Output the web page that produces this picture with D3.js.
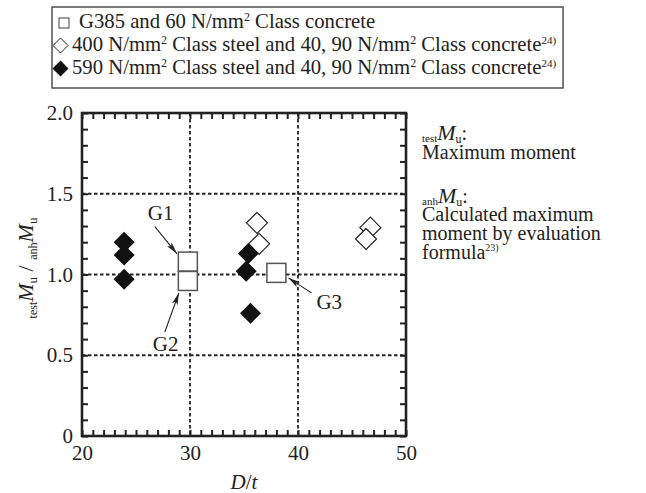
<!DOCTYPE html>
<html>
<head>
<meta charset="utf-8">
<script src="https://cdn.jsdelivr.net/npm/d3@7/dist/d3.min.js"></script>
<style>
    body { margin: 0; background: #fff; }
    text { font-family: "Liberation Serif", "Times New Roman", serif; fill: #222; }
</style>
</head>
<body>
<script>
// values
var g385DT = [29.8, 29.8, 38.0];
var g385Ratio = [1.08, 0.96, 1.01];
var g385Names = ["G1", "G2", "G3"];

var steel400DT = [36.2, 36.4, 46.7, 46.3];
var steel400Ratio = [1.32, 1.19, 1.29, 1.22];

var steel590DT = [23.9, 23.9, 23.9, 35.4, 35.2, 35.6];
var steel590Ratio = [1.20, 1.12, 0.97, 1.13, 1.02, 0.76];

var xTicks = [20, 30, 40, 50];
var xTickLabels = ["20", "30", "40", "50"];
var yTicks = [0, 0.5, 1.0, 1.5, 2.0];
var yTickLabels = ["0", "0.5", "1.0", "1.5", "2.0"];

// set the dimensions and margins of the graph
var margin = {top: 113, right: 240, bottom: 57, left: 82},
    width = 646 - margin.left - margin.right,
    height = 493 - margin.top - margin.bottom;

// set the ranges
var x = d3.scaleLinear().domain([20, 50]).range([0, width]);
var y = d3.scaleLinear().domain([0, 2]).range([height, 0]);

var root = d3.select("body").append("svg")
    .attr("width", 646)
    .attr("height", 493);

root.append("defs").append("marker")
    .attr("id", "arrow")
    .attr("viewBox", "0 0 12 6")
    .attr("refX", 12)
    .attr("refY", 3)
    .attr("markerWidth", 12)
    .attr("markerHeight", 6)
    .attr("markerUnits", "userSpaceOnUse")
    .attr("orient", "auto")
    .append("path")
    .attr("d", "M0,0 L12,3 L0,6 L3,3 z")
    .style("fill", "#222");

var svg = root.append("g")
    .attr("transform", "translate(" + margin.left + "," + margin.top + ")");

// dotted grid lines at the major ticks
svg.selectAll(".vgrid")
    .data([30, 40])
    .enter().append("line")
    .attr("x1", d => x(d)).attr("x2", d => x(d))
    .attr("y1", 0).attr("y2", height)
    .style("stroke", "#222").style("stroke-width", 1.8)
    .style("stroke-dasharray", "3.5,2.5");
svg.selectAll(".hgrid")
    .data([0.5, 1.0, 1.5])
    .enter().append("line")
    .attr("x1", 0).attr("x2", width)
    .attr("y1", d => y(d)).attr("y2", d => y(d))
    .style("stroke", "#222").style("stroke-width", 1.8)
    .style("stroke-dasharray", "3.5,2.5");

// minor ticks pointing inward on all four sides
function tickStyle(g) {
    g.select(".domain").remove();
    g.selectAll("line").style("stroke", "#222").style("stroke-width", 2);
    g.selectAll("text").remove();
}
var xMinor = d3.range(20, 51, 1), yMinor = d3.range(0, 2.001, 0.1);
svg.append("g").attr("transform", "translate(0," + height + ")")
    .call(d3.axisBottom(x).tickValues(xMinor).tickSize(-6)).call(tickStyle);
svg.append("g")
    .call(d3.axisTop(x).tickValues(xMinor).tickSize(-6)).call(tickStyle);
svg.append("g")
    .call(d3.axisLeft(y).tickValues(yMinor).tickSize(-6)).call(tickStyle);
svg.append("g").attr("transform", "translate(" + width + ",0)")
    .call(d3.axisRight(y).tickValues(yMinor).tickSize(-6)).call(tickStyle);

// frame
svg.append("rect")
    .attr("width", width).attr("height", height)
    .style("fill", "none").style("stroke", "#222").style("stroke-width", 2.6);

// tick labels
var xAxis = svg.append("g").attr("transform", "translate(0," + height + ")")
    .call(d3.axisBottom(x).tickValues(xTicks).tickSize(0).tickPadding(9)
        .tickFormat((d, i) => xTickLabels[i]));
xAxis.select(".domain").remove();
xAxis.selectAll("text").style("font-size", "21px").style("font-family", "Liberation Serif").style("fill", "#222");

var yAxis = svg.append("g")
    .call(d3.axisLeft(y).tickValues(yTicks).tickSize(0).tickPadding(9)
        .tickFormat((d, i) => yTickLabels[i]));
yAxis.select(".domain").remove();
yAxis.selectAll("text").style("font-size", "21px").style("font-family", "Liberation Serif").style("fill", "#222");

// markers
function diamond(r) {
    return "M0," + (-r) + "L" + r + ",0L0," + r + "L" + (-r) + ",0Z";
}
var s400 = steel400DT.map((d, i) => ({dt: d, r: steel400Ratio[i]}));
var s590 = steel590DT.map((d, i) => ({dt: d, r: steel590Ratio[i]}));
var g385 = g385DT.map((d, i) => ({dt: d, r: g385Ratio[i], name: g385Names[i]}));

svg.selectAll(".open")
    .data(s400).enter().append("path")
    .attr("transform", d => "translate(" + x(d.dt) + "," + y(d.r) + ")")
    .attr("d", diamond(10.5))
    .style("fill", "#fff").style("stroke", "#222").style("stroke-width", 1.2);

svg.selectAll(".filled")
    .data(s590).enter().append("path")
    .attr("transform", d => "translate(" + x(d.dt) + "," + y(d.r) + ")")
    .attr("d", diamond(10.5))
    .style("fill", "#111");

svg.selectAll(".sq")
    .data(g385).enter().append("rect")
    .attr("x", d => x(d.dt) - 9.5).attr("y", d => y(d.r) - 9.5)
    .attr("width", 19).attr("height", 19)
    .style("fill", "#fff").style("stroke", "#555").style("stroke-width", 1.5);

// G labels with arrows (offsets in pixels from the square centre)
var labelPos = {
    G1: {tx: -40, ty: -42, x1: -33, y1: -35, x2: -11, y2: -8},
    G2: {tx: -35, ty: 70, x1: -23, y1: 51, x2: -9, y2: 12},
    G3: {tx: 40, ty: 36, x1: 35, y1: 20, x2: 12, y2: 5}
};
g385.forEach(function (d) {
    var p = labelPos[d.name], cx = x(d.dt), cy = y(d.r);
    svg.append("line")
        .attr("x1", cx + p.x1).attr("y1", cy + p.y1)
        .attr("x2", cx + p.x2).attr("y2", cy + p.y2)
        .style("stroke", "#222").style("stroke-width", 1.1)
        .attr("marker-end", "url(#arrow)");
    svg.append("text")
        .attr("x", cx + p.tx).attr("y", cy + p.ty)
        .style("font-size", "21px")
        .text(d.name);
});

// axis titles
var xt = root.append("text")
    .attr("x", margin.left + width / 2).attr("y", 489)
    .attr("text-anchor", "middle").style("font-size", "21px");
xt.append("tspan").style("font-style", "italic").text("D");
xt.append("tspan").text("/");
xt.append("tspan").style("font-style", "italic").text("t");

var yt = root.append("text")
    .attr("transform", "translate(33,268) rotate(-90)")
    .attr("text-anchor", "middle").style("font-size", "22px");
yt.append("tspan").attr("dy", 4).style("font-size", "12px").text("test");
yt.append("tspan").attr("dy", -4).style("font-style", "italic").text("M");
yt.append("tspan").attr("dy", 4).style("font-size", "13px").text("u");
yt.append("tspan").attr("dy", -4).text(" / ");
yt.append("tspan").attr("dy", 4).style("font-size", "12px").text("anh");
yt.append("tspan").attr("dy", -4).style("font-style", "italic").text("M");
yt.append("tspan").attr("dy", 4).style("font-size", "13px").text("u");

// legend
var legendBox = root.append("rect")
    .attr("x", 52).attr("y", 7).attr("height", 81)
    .style("fill", "#fff").style("stroke", "#444").style("stroke-width", 1.4);
root.append("rect")
    .attr("x", 59).attr("y", 18).attr("width", 10).attr("height", 10)
    .style("fill", "#fff").style("stroke", "#555").style("stroke-width", 1.1);
root.append("path")
    .attr("transform", "translate(60.5,45.5)").attr("d", diamond(7.5))
    .style("fill", "#fff").style("stroke", "#222").style("stroke-width", 1);
root.append("path")
    .attr("transform", "translate(60.5,68.5)").attr("d", diamond(8))
    .style("fill", "#111");

// parts: plain strings, or [superscript, font size]
var legendRight = 0;
function legendLine(tx, ty, parts) {
    var t = root.append("text").attr("x", tx).attr("y", ty).style("font-size", "20.7px");
    var shift = 0;
    parts.forEach(function (p) {
        if (Array.isArray(p)) {
            t.append("tspan").attr("dy", -7).style("font-size", p[1]).text(p[0]);
            shift = 7;
        } else {
            t.append("tspan").attr("dy", shift).text(p);
            shift = 0;
        }
    });
    legendRight = Math.max(legendRight, tx + t.node().getComputedTextLength());
}
legendLine(79, 28, ["G385 and 60 N/mm", ["2", "12px"], " Class concrete"]);
legendLine(72, 51, ["400 N/mm", ["2", "12px"], " Class steel and 40, 90 N/mm", ["2", "12px"], " Class concrete", ["24)", "11px"]]);
legendLine(72, 74, ["590 N/mm", ["2", "12px"], " Class steel and 40, 90 N/mm", ["2", "12px"], " Class concrete", ["24)", "11px"]]);
legendBox.attr("width", legendRight + 7 - 52);

// notes on the right
function symLine(ty, pre) {
    var t = root.append("text").attr("x", 422).attr("y", ty).style("font-size", "20px");
    t.append("tspan").attr("dy", 2).style("font-size", "11px").text(pre);
    t.append("tspan").attr("dy", -2).style("font-style", "italic").style("font-size", "22px").text("M");
    t.append("tspan").attr("dy", 3).style("font-size", "12px").text("u");
    t.append("tspan").attr("dy", -3).text(":");
}
function noteLine(ty, txt, sup) {
    var t = root.append("text").attr("x", 422).attr("y", ty).style("font-size", "20px");
    t.append("tspan").text(txt);
    if (sup) t.append("tspan").attr("dy", -8).style("font-size", "10px").text(sup);
}
symLine(140, "test");
noteLine(159, "Maximum moment");
symLine(203, "anh");
noteLine(221, "Calculated maximum");
noteLine(240, "moment by evaluation");
noteLine(259, "formula", "23)");
</script>
</body>
</html>
